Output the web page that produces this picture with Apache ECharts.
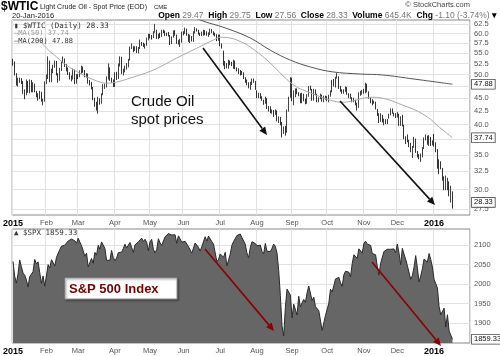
<!DOCTYPE html>
<html><head><meta charset="utf-8">
<script src="https://cdn.jsdelivr.net/npm/echarts@6/dist/echarts.min.js"></script>
<style>html,body{margin:0;padding:0;background:#fff}#c{width:500px;height:356px}</style>
</head><body><div id="c"></div>
<script>
// ---- categories (trading days per month) ----
const monthLabels = ['2015','Feb','Mar','Apr','May','Jun','Jul','Aug','Sep','Oct','Nov','Dec','2016'];
const monthDays = [20,19,22,21,20,22,22,21,21,22,20,22,12];
const padDays = 10;

// ---- $WTIC daily OHLC ----
const wticOpen = [
53.27,52.6,50.0,47.9,48.6,48.8,48.3,46.1,45.9,48.5,46.2,48.7,46.4,47.8,46.3,45.5,45.2,46.2,44.4,44.5,
48.3,49.6,53.0,48.5,50.5,51.7,52.9,50.0,48.8,51.2,52.8,53.5,52.1,51.2,50.3,49.5,49.1,51.0,48.2,
49.8,49.6,50.5,51.5,50.8,49.6,50.0,48.3,48.2,47.1,44.8,43.9,43.5,44.7,44.0,45.7,47.5,47.5,49.2,51.4,48.9,48.7,
47.6,50.1,49.1,52.1,54.0,50.4,50.8,51.6,51.9,53.3,56.4,56.7,55.7,56.4,55.3,56.2,57.7,57.2,57.0,57.1,58.6,
59.6,59.1,58.9,60.4,60.9,58.9,59.4,59.3,60.7,60.5,59.9,59.7,59.4,57.3,59.0,60.7,59.7,57.5,57.5,57.7,
60.3,60.2,61.3,59.6,58.0,59.1,58.1,60.1,61.4,60.8,60.0,59.5,60.0,60.5,60.5,59.6,59.7,61.0,60.3,59.7,59.6,58.3,
59.5,57.0,55.5,52.5,52.3,51.7,52.8,52.7,52.2,53.0,51.4,50.9,50.9,50.2,50.4,49.2,48.5,48.1,47.4,48.0,48.8,48.5,
46.5,45.2,45.8,45.1,44.6,43.9,44.9,43.1,43.3,42.3,42.5,41.9,42.6,40.8,41.1,40.4,38.3,39.3,38.6,42.6,45.3,
49.0,45.4,46.3,46.8,46.0,45.9,44.2,45.9,44.6,44.0,45.6,47.1,46.9,44.7,46.7,45.8,44.5,44.9,45.7,44.4,45.2,
45.1,44.7,45.5,46.3,48.5,47.8,49.4,49.6,47.1,46.7,46.6,46.4,47.3,45.9,45.3,45.2,44.4,44.6,44.0,43.2,45.9,46.1,
46.6,46.1,47.9,46.3,45.2,44.3,44.2,44.2,42.9,41.8,40.7,41.7,40.7,40.8,40.5,41.5,41.8,42.9,42.1,41.7,
41.7,41.9,40.0,41.1,40.0,37.6,37.5,37.2,36.8,35.6,36.3,37.4,35.5,34.9,34.7,34.8,36.1,37.5,38.1,36.8,37.9,36.6,
37.6,36.8,35.9,33.9,33.3,32.9,31.4,30.4,30.6,31.0,29.4,29.47];
const wticClose = [
52.69,50.04,47.93,48.65,48.79,48.36,46.07,45.89,48.48,46.25,48.69,46.39,47.78,46.31,45.59,45.15,46.23,44.45,44.53,48.24,
49.57,53.05,48.45,50.48,51.69,52.86,50.02,48.84,51.21,52.78,53.53,52.14,51.16,50.34,49.45,49.05,50.99,48.17,49.76,
49.59,50.52,51.53,50.76,49.61,50.00,48.29,48.17,47.05,44.84,43.88,43.46,44.66,43.96,45.72,47.45,47.51,49.21,51.43,48.87,48.68,47.60,
50.09,49.14,52.14,53.98,50.42,50.79,51.64,51.91,53.29,56.39,56.71,55.74,56.38,55.26,56.16,57.74,57.15,56.99,57.06,58.58,59.63,
59.15,58.93,60.40,60.93,58.94,59.39,59.25,60.75,60.50,59.88,59.69,59.43,57.26,58.98,60.72,59.72,57.51,57.51,57.68,60.30,
60.20,61.26,59.64,58.00,59.13,58.14,60.14,61.43,60.77,59.96,59.52,59.97,60.45,60.45,59.61,59.68,61.01,60.27,59.70,59.63,58.33,59.47,
56.96,56.93,52.53,52.33,51.65,52.78,52.74,52.20,53.04,51.41,50.91,50.89,50.15,50.36,49.19,48.45,48.14,47.39,47.98,48.79,48.52,47.12,
45.17,45.74,45.15,44.66,43.87,44.96,43.08,43.30,42.23,42.50,41.87,42.62,40.80,41.14,40.45,38.24,39.31,38.60,42.56,45.22,49.20,
45.41,46.25,46.75,46.05,45.94,44.15,45.92,44.63,44.00,45.59,47.15,46.90,44.68,46.68,45.83,44.48,44.91,45.70,44.43,45.23,45.09,
44.74,45.54,46.26,48.53,47.81,49.43,49.63,47.10,46.66,46.64,46.38,47.26,45.89,45.29,45.20,44.38,44.60,43.98,43.20,45.94,46.06,46.59,
46.14,47.90,46.32,45.20,44.29,44.21,44.21,42.93,41.75,40.74,41.74,40.67,40.75,40.54,40.39,41.75,42.87,42.08,41.71,41.65,
41.85,39.94,41.08,39.97,37.65,37.51,37.16,36.76,35.62,36.31,37.35,35.52,34.95,34.73,34.74,36.14,37.50,38.10,36.81,37.87,36.60,37.04,
36.76,35.97,33.97,33.27,33.16,31.41,30.44,30.48,31.20,29.42,29.43,28.33];
const wticLow = [
52.0,49.8,47.6,47.4,48.2,47.9,45.9,44.8,45.6,46.1,46.0,46.2,46.2,46.2,45.2,44.5,44.8,44.3,43.6,44.3,
47.9,49.0,48.3,48.3,50.3,51.5,49.8,48.2,48.6,50.8,52.6,51.7,50.7,49.9,48.9,48.5,48.9,47.9,48.0,
49.0,49.4,50.2,50.4,49.4,49.3,48.0,47.6,46.8,44.6,43.3,42.6,42.0,43.7,43.9,45.6,46.9,47.2,48.9,48.6,48.2,47.3,
47.3,48.8,49.0,51.8,50.1,49.8,50.5,51.1,51.6,53.2,56.0,55.2,55.5,55.0,54.9,56.0,56.8,56.5,56.1,56.8,58.2,
58.7,58.4,58.8,60.2,58.6,58.5,58.8,59.1,60.1,59.3,59.3,59.2,57.0,57.2,58.9,59.4,57.3,57.1,56.5,57.6,
59.5,59.9,59.4,57.8,57.5,57.9,57.8,60.0,60.5,59.7,59.3,59.3,59.4,59.5,59.4,59.1,59.6,60.1,59.5,59.2,58.0,58.1,
56.7,56.1,52.0,51.2,51.4,51.3,52.1,51.9,51.3,51.2,50.7,50.1,49.8,49.9,49.0,48.2,47.7,47.0,46.7,47.7,48.2,46.7,
45.0,45.0,44.9,44.5,43.7,43.9,42.9,42.4,42.1,42.0,41.4,41.8,40.6,40.3,39.9,37.8,38.4,38.1,38.6,42.4,45.1,
44.4,43.6,45.2,45.8,45.4,44.0,44.0,44.4,43.8,43.9,45.3,46.6,44.5,44.5,45.6,44.2,44.2,44.8,44.3,44.2,44.7,
44.4,44.2,45.3,46.2,47.4,47.2,49.1,46.9,46.3,45.9,45.9,46.3,45.7,45.0,44.9,44.2,44.2,43.6,42.6,43.1,45.5,45.7,
45.9,46.0,46.2,44.9,44.0,43.6,43.9,42.8,41.6,40.3,40.5,40.4,39.9,40.1,40.1,41.1,41.7,42.0,41.5,41.2,
41.3,39.8,39.8,39.7,37.5,36.7,37.0,36.2,35.4,34.5,36.1,35.3,34.6,34.3,33.9,34.6,35.9,37.3,36.6,36.4,36.4,36.5,
36.3,35.4,32.9,32.1,32.8,31.2,29.9,29.9,29.9,29.1,28.3,27.56];
const wticHigh = [
53.6,53.0,50.3,49.3,49.3,49.2,48.6,46.8,48.9,48.6,48.9,48.8,48.3,48.0,46.5,46.0,46.5,46.3,44.9,48.5,
50.0,54.2,53.2,51.3,52.2,53.2,53.1,50.3,51.5,53.0,54.2,53.7,52.4,51.6,50.5,49.8,51.3,51.1,50.1,
50.1,50.9,52.0,51.8,51.0,50.3,50.2,48.8,48.4,47.3,45.1,44.3,45.3,45.0,46.0,47.9,48.0,49.6,52.5,51.6,49.3,48.9,
50.5,50.6,52.5,54.2,54.1,51.3,52.0,52.6,53.6,56.6,57.4,56.7,56.7,56.7,56.5,58.4,57.8,57.6,57.3,58.9,59.9,
59.9,59.6,60.6,62.6,61.0,59.9,60.2,61.0,61.0,60.8,60.2,60.4,59.6,59.2,60.8,60.9,59.7,58.3,58.6,60.5,
60.6,61.6,61.3,59.9,59.7,59.3,60.6,61.7,61.4,61.0,60.2,60.5,61.0,60.9,60.6,60.3,61.3,61.2,60.6,60.2,59.8,59.7,
59.7,57.4,55.6,53.1,52.6,53.4,53.2,52.9,53.4,53.2,51.6,51.4,51.0,50.8,50.5,49.4,48.9,48.3,48.4,49.1,49.1,48.6,
46.6,46.1,46.0,45.4,44.7,45.3,45.0,43.5,43.4,42.8,42.7,42.8,42.6,41.5,41.4,40.5,39.7,39.8,42.8,45.3,49.4,
49.3,46.6,47.0,47.0,46.2,46.0,46.1,45.9,44.9,45.8,47.5,47.6,46.9,46.9,46.8,45.9,45.2,45.9,45.7,45.5,45.5,
45.4,45.7,46.6,48.8,49.0,49.5,50.3,49.6,47.5,46.8,46.8,47.4,47.3,46.0,45.9,45.2,45.1,44.7,44.1,46.2,46.5,46.7,
46.9,48.2,48.0,46.4,45.2,44.8,44.5,44.3,42.9,42.1,42.1,41.8,41.1,41.0,41.0,42.0,43.0,43.0,42.2,42.1,
42.3,42.0,41.5,41.8,40.0,38.0,38.3,37.4,36.9,36.4,37.9,37.6,35.6,35.1,35.2,36.2,37.8,38.3,38.1,38.2,37.9,37.3,
38.4,37.0,35.9,34.3,34.0,33.0,31.8,31.9,31.6,31.1,30.5,29.75];

// ---- moving averages (trading-day index, value) ----
const ma50Idx = [16,20,26,32,42,50,56,62,70,84,98,110,120,124,130,138,142,152,168,178,190,197,215,236,248,255,263];
const ma50Val = [58.3,56.2,54.1,52.1,49.9,48.6,48.1,48.35,49.2,51.0,53.8,56.2,58.3,59.0,58.8,57.5,56.5,53.3,47.7,46.1,44.6,44.2,45.2,43.3,41.4,39.6,37.74];
const ma200Idx = [100,112,127,142,154,166,178,191,208,221,240,263];
const ma200Val = [66.5,63.7,61.5,58.8,55.7,53.3,51.7,50.6,50.1,49.9,49.0,47.88];

// ---- $SPX daily close ----
const spxClose = [
2058.20,2020.58,2002.61,2025.90,2062.14,2044.81,2028.26,2023.03,2011.27,1992.67,2019.42,2022.55,2032.12,2063.15,2051.82,2057.09,2029.55,2002.16,2021.25,1994.99,
2020.85,2050.03,2041.51,2062.52,2055.47,2046.74,2068.59,2068.53,2088.48,2096.99,2100.34,2099.68,2097.45,2110.30,2109.66,2115.48,2113.86,2110.74,2104.50,
2117.39,2107.78,2098.53,2101.04,2071.26,2079.43,2044.16,2040.24,2065.95,2053.40,2081.19,2074.28,2099.50,2089.27,2108.10,2104.42,2091.50,2061.05,2056.15,2061.02,2086.24,2067.89,
2059.69,2066.96,2080.62,2076.33,2081.90,2091.18,2102.06,2092.43,2095.84,2106.63,2104.99,2081.18,2100.40,2097.29,2107.96,2112.93,2117.69,2108.92,2114.76,2106.85,2085.51,
2108.29,2114.49,2089.46,2080.15,2088.00,2116.10,2105.33,2099.12,2098.48,2121.10,2122.73,2129.20,2127.83,2125.85,2130.82,2126.06,2104.20,2123.48,2120.79,2107.39,
2111.73,2109.60,2114.07,2095.84,2092.83,2079.28,2080.15,2105.20,2108.86,2094.11,2084.43,2096.29,2100.44,2121.24,2109.99,2122.85,2124.20,2108.58,2102.31,2101.49,2057.64,2063.11,
2077.42,2076.78,2068.76,2081.34,2046.68,2051.31,2076.62,2099.60,2108.95,2107.40,2124.29,2126.64,2128.28,2119.21,2114.15,2102.15,2079.65,2067.64,2093.25,2108.57,2108.63,2103.84,
2098.04,2093.32,2099.84,2083.56,2077.57,2104.18,2084.07,2086.05,2083.39,2091.54,2102.44,2096.92,2079.61,2035.73,1970.89,1893.21,1867.61,1940.51,1987.66,1988.87,1972.18,
1913.85,1948.86,1951.13,1921.22,1969.41,1942.04,1952.29,1961.05,1953.03,1978.09,1995.31,1990.20,1958.03,1966.97,1942.74,1938.76,1932.24,1931.34,1881.77,1884.09,1920.03,
1923.82,1951.36,1987.05,1979.92,1995.83,2013.43,2014.89,2017.46,2003.69,1994.24,2023.86,2033.11,2033.66,2030.77,2018.94,2052.51,2075.15,2071.18,2065.89,2090.35,2089.41,2079.36,
2104.05,2109.79,2102.31,2099.93,2099.20,2078.58,2081.72,2075.00,2045.97,2023.04,2053.19,2050.44,2083.58,2081.24,2089.17,2086.59,2089.14,2088.87,2090.11,2080.41,
2102.63,2079.51,2049.62,2091.69,2077.07,2063.59,2047.62,2052.23,2012.37,2021.94,2043.41,2073.07,2041.89,2005.55,2021.15,2038.97,2064.29,2060.99,2056.50,2078.36,2063.36,2043.94,
2012.66,2016.71,1990.26,1943.09,1922.03,1923.67,1938.68,1890.28,1921.84,1880.33,1881.33,1859.33];

// ---- tick labels ----
const wticTicks = [27.5,30,32.5,35,37.5,40,42.5,45,47.5,50,52.5,55,57.5,60,62.5];
const wticHiddenTicks = [37.5,47.5];
const wticLastValues = [47.88,37.74,28.33];
const spxTicks = [1900,1950,2000,2050,2100];
const spxLast = [1859.33];

// ---- build ----
const categories = [];
monthLabels.forEach((m, mi) => { for (let d = 1; d <= monthDays[mi]; d++) categories.push(m + '#' + d); });
for (let p = 1; p <= padDays; p++) categories.push('pad#' + p);
const isStart = (i, v) => v.split('#')[1] === '1' && v.indexOf('pad') !== 0;

const FONT = 'Liberation Sans, Arial, sans-serif';
const MONO = 'DejaVu Sans Mono, monospace';
const CLEAR = 'rgba(0,0,0,0)';

function xAxis(g) {
  return {
    type: 'category', gridIndex: g, data: categories, boundaryGap: true,
    axisLine: {show: false}, axisTick: {show: false},
    axisLabel: {
      interval: isStart, margin: 4, color: '#555', fontSize: 7.5, fontFamily: FONT,
      formatter: v => { const m = v.split('#')[0]; return /^\d{4}$/.test(m) ? '{y|' + m + '}' : m; },
      rich: {y: {fontWeight: 'bold', color: '#000', fontSize: 9, fontFamily: FONT}}
    },
    splitLine: {show: true, interval: isStart, lineStyle: {color: '#e2e2e2', width: 1}}
  };
}

const candleData = wticClose.map((c, i) => [wticOpen[i], c, wticLow[i], wticHigh[i]]);
const tickLabel = {position: 'end', distance: 4, color: '#555', fontSize: 7.5, fontFamily: FONT};
const boxLabel = {position: 'end', distance: 2, color: '#111', fontSize: 7.5, fontFamily: FONT,
  backgroundColor: '#fff', borderColor: '#444', borderWidth: 0.8, padding: [1, 2, 0, 2]};

function gridSeries(xi, yi, data, ticks, hidden, decimals) {
  return {type: 'line', xAxisIndex: xi, yAxisIndex: yi, data: data, showSymbol: false, silent: true, z: 1,
    lineStyle: {color: CLEAR, width: 0}, tooltip: {show: false},
    markLine: {silent: true, symbol: 'none', animation: false, z: 1,
      lineStyle: {color: '#e2e2e2', width: 1, type: 'solid'},
      label: Object.assign({formatter: p => Number(p.value).toFixed(decimals)}, tickLabel),
      emphasis: {disabled: true},
      data: ticks.map(v => ({yAxis: v, label: {show: hidden.indexOf(v) < 0}}))}};
}
function boxSeries(xi, yi, data, values) {
  return {type: 'line', xAxisIndex: xi, yAxisIndex: yi, data: data, showSymbol: false, silent: true, z: 20,
    lineStyle: {color: CLEAR, width: 0},
    markLine: {silent: true, symbol: 'none', animation: false, z: 20,
      lineStyle: {color: CLEAR, width: 0},
      label: Object.assign({formatter: p => Number(p.value).toFixed(2)}, boxLabel),
      emphasis: {disabled: true},
      data: values.map(v => ({yAxis: v}))}};
}

function arrow(x1, y1, x2, y2, color, w, head) {
  const a = Math.atan2(y2 - y1, x2 - x1), W = head * 0.45;
  const bx = x2 - head * Math.cos(a), by = y2 - head * Math.sin(a);
  const px = -Math.sin(a) * W, py = Math.cos(a) * W;
  return [
    {type: 'line', silent: true, z: 100, shape: {x1: x1, y1: y1, x2: bx, y2: by}, style: {stroke: color, lineWidth: w}},
    {type: 'polygon', silent: true, z: 100, shape: {points: [[x2, y2], [bx + px, by + py], [bx - px, by - py]]}, style: {fill: color}}
  ];
}
function txt(x, y, text, font, fill, align, extra) {
  return Object.assign({type: 'text', silent: true, z: 100,
    style: Object.assign({x: x, y: y, text: text, font: font, fill: fill, align: align || 'left', textAlign: align || 'left',
      verticalAlign: 'middle', textVerticalAlign: 'middle'}, extra || {})});
}

const graphics = [].concat(
  txt(1, 7, '$WTIC', 'bold 12px ' + FONT, '#000'),
  txt(40, 7.5, 'Light Crude Oil - Spot Price (EOD)', '7px ' + FONT, '#222'),
  txt(154, 7.5, 'CME', '6px ' + FONT, '#222'),
  txt(12, 16, '20-Jan-2016', '7.5px ' + FONT, '#222'),
  txt(470, 5, '© StockCharts.com', '7.5px ' + FONT, '#444', 'right'),
  txt(497, 16, '{b|Open} {v|29.47}  {b|High} {v|29.75}  {b|Low} {v|27.56}  {b|Close} {v|28.33}  {b|Volume} {v|645.4K}  {b|Chg} {v|-1.10 (-3.74%)} {b|▾}', '8.5px ' + FONT, '#666', 'right',
    {rich: {b: {font: 'bold 8.5px ' + FONT, fill: '#000'}, v: {font: '8.5px ' + FONT, fill: '#777'}}}),
  txt(14, 26, '▮ $WTIC (Daily) 28.33', '7.5px ' + MONO, '#333'),
  txt(14, 33.5, '—MA(50) 37.74', '7px ' + MONO, '#999'),
  txt(14, 41, '—MA(200) 47.88', '7px ' + MONO, '#333'),
  txt(14, 233, '▲ $SPX 1859.33', '7.5px ' + MONO, '#333'),
  txt(131, 102, 'Crude Oil', '15px ' + FONT, '#111'),
  txt(131, 120, 'spot prices', '15px ' + FONT, '#111'),
  arrow(203, 48, 267, 135, '#111', 1.6, 8),
  arrow(340, 101, 435, 205, '#111', 1.6, 8),
  arrow(205, 249, 274, 331, '#8b0000', 1.6, 8),
  arrow(372, 262, 441, 346, '#8b0000', 1.6, 8),
  [{type: 'rect', silent: true, z: 100, shape: {x: 65, y: 278, width: 112, height: 21},
    style: {fill: '#fff', stroke: '#999', lineWidth: 1, shadowBlur: 2, shadowOffsetX: 1, shadowOffsetY: 1, shadowColor: 'rgba(0,0,0,0.45)'}}],
  txt(69, 289, 'S&P 500 Index', 'bold 13px ' + FONT, '#7a0000')
);

const option = {
  animation: false,
  backgroundColor: '#fff',
  textStyle: {fontFamily: FONT},
  grid: [
    {left: 12, right: 30, top: 20, height: 195, show: true, borderColor: '#888', borderWidth: 1, backgroundColor: '#fff'},
    {left: 12, right: 30, top: 229, height: 114, show: true, borderColor: '#888', borderWidth: 1, backgroundColor: '#fff'}
  ],
  xAxis: [xAxis(0), xAxis(1)],
  yAxis: [
    {type: 'log', logBase: 10, gridIndex: 0, position: 'right', min: 26.78, max: 63.7,
      axisLabel: {show: false}, axisTick: {show: false}, axisLine: {show: false}, splitLine: {show: false}},
    {type: 'value', gridIndex: 1, position: 'right', min: 1849.7, max: 2141,
      axisLabel: {show: false}, axisTick: {show: false}, axisLine: {show: false}, splitLine: {show: false}}
  ],
  series: [
    gridSeries(0, 0, wticClose, wticTicks, wticHiddenTicks, 1),
    {type: 'candlestick', xAxisIndex: 0, yAxisIndex: 0, data: candleData, barWidth: 1, z: 3,
      itemStyle: {color: '#fff', color0: '#000', borderColor: '#111', borderColor0: '#000', borderWidth: 0.8}},
    {type: 'line', xAxisIndex: 0, yAxisIndex: 0, data: ma50Idx.map((x, k) => [x, ma50Val[k]]),
      smooth: 0.4, symbol: 'none', z: 4, lineStyle: {color: '#aaa', width: 1}},
    {type: 'line', xAxisIndex: 0, yAxisIndex: 0, data: ma200Idx.map((x, k) => [x, ma200Val[k]]),
      smooth: 0.4, symbol: 'none', z: 4, lineStyle: {color: '#555', width: 1}},
    boxSeries(0, 0, wticClose, wticLastValues),
    gridSeries(1, 1, spxClose, spxTicks, [], 0),
    {type: 'line', xAxisIndex: 1, yAxisIndex: 1, data: spxClose, symbol: 'none', z: 3,
      lineStyle: {color: '#2a2a2a', width: 1}, areaStyle: {color: '#666', opacity: 1, origin: 'start'}},
    boxSeries(1, 1, spxClose, spxLast)
  ],
  graphic: graphics
};

const chart = echarts.init(document.getElementById('c'), null, {renderer: 'canvas'});
chart.setOption(option);
</script>
</body></html>
